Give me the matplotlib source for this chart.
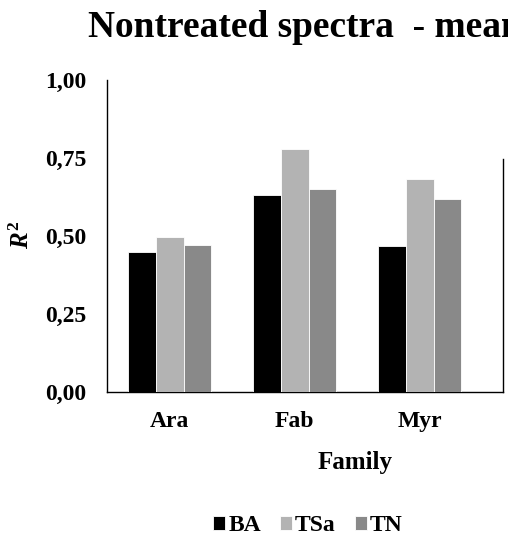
#!/usr/bin/env python3

import matplotlib
matplotlib.use("Agg")
import matplotlib.pyplot as plt
import numpy as np

families = ['Ara', 'Fab', 'Myr']
series = ['BA', 'TSa', 'TN']
ba = [0.450, 0.630, 0.467]
tsa = [0.496, 0.780, 0.683]
tn = [0.472, 0.651, 0.618]
yticks = [0.0, 0.25, 0.5, 0.75, 1.0]

colors = ['#000000', '#b3b3b3', '#898989']

plt.rcParams['font.family'] = ['Liberation Serif', 'DejaVu Serif']
plt.rcParams['font.weight'] = 'bold'
plt.rcParams['mathtext.fontset'] = 'custom'
plt.rcParams['mathtext.rm'] = 'Liberation Serif:bold'
plt.rcParams['mathtext.it'] = 'Liberation Serif:italic:bold'
plt.rcParams['mathtext.bf'] = 'Liberation Serif:bold'

fig = plt.figure(figsize=(5.08, 5.37), dpi=100)
ax = fig.add_axes([0.2112, 0.270, 0.779, 0.581])

x = np.arange(len(families))
width = 0.222
for k, (name, vals) in enumerate(zip(series, [ba, tsa, tn])):
    ax.bar(x + (k - 1) * width, vals, width, color=colors[k],
           edgecolor='white', linewidth=0.6, label=name, zorder=3)

xmax = 2.667
ax.set_xlim(-0.5, xmax)
ax.set_ylim(0, 1.0)
ax.set_yticks(yticks)
ax.set_yticklabels([("%.2f" % t).replace('.', ',') for t in yticks],
                   fontsize=17, fontweight='bold')
ax.set_xticks(x)
ax.set_xticklabels(families, fontsize=17, fontweight='bold')
ax.tick_params(axis='both', which='both', length=0)
ax.tick_params(axis='y', pad=15)
ax.tick_params(axis='x', pad=14)

for s in ['top', 'right']:
    ax.spines[s].set_visible(False)
for s in ['left', 'bottom']:
    ax.spines[s].set_linewidth(1.0)
# partial border line on the right, as in the cropped original
ax.axvline(xmax, ymin=0, ymax=0.747, color='black', linewidth=1.0,
           clip_on=False)

ax.set_xlabel('Family', fontsize=18, fontweight='bold')
ax.xaxis.set_label_coords(0.626, -0.19)
ax.set_ylabel(r'$R^{\mathrm{2}}$', fontsize=18, va='center')
ax.yaxis.set_label_coords(-0.215, 0.503)

fig.text(88 / 508, 1 - 37 / 537, 'Nontreated spectra  - mean',
         fontsize=26.9, fontweight='bold', ha='left', va='baseline')

fig.legend(loc='center', bbox_to_anchor=(0.606, 0.0205), ncol=3,
           frameon=False, handlelength=0.5, handleheight=0.5,
           handletextpad=0.15, columnspacing=0.8,
           prop={'size': 17, 'weight': 'bold'})

fig.savefig('out.png', dpi=100)
